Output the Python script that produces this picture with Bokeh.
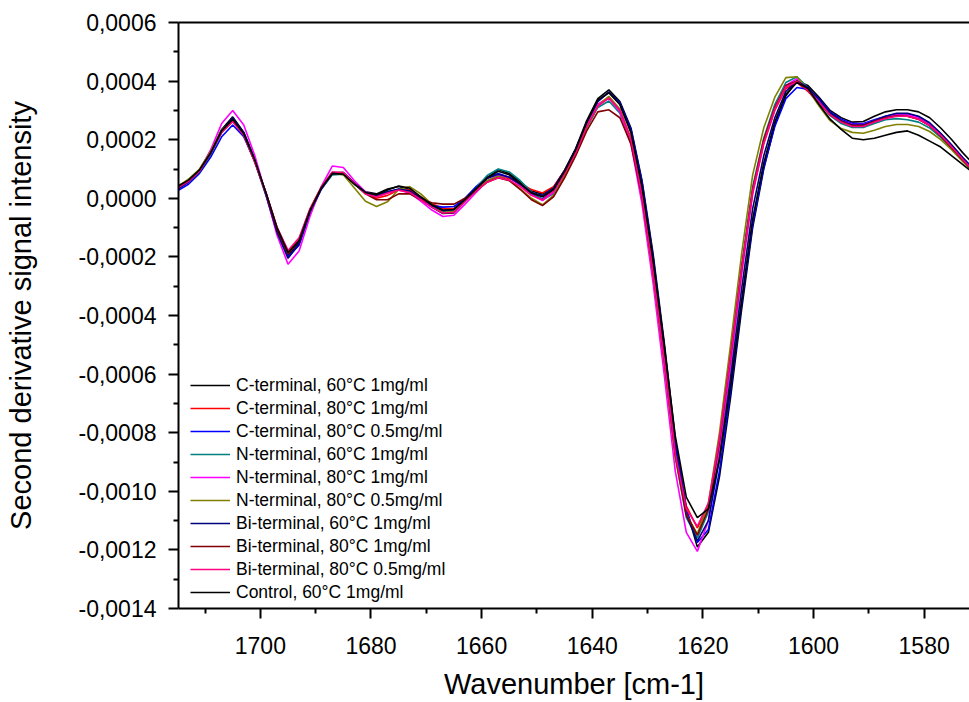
from bokeh.plotting import figure
from bokeh.models import (Range1d, LinearAxis, FixedTicker, CustomJSTickFormatter,
                          Legend, LegendItem)
from bokeh.embed import file_html
from bokeh.resources import INLINE

# Wavenumber grid [cm-1]
wavenumber = [
    1717, 1715, 1713, 1711, 1709, 1707, 1705, 1703, 1701, 1699,
    1697, 1695, 1693, 1691, 1689, 1687, 1685, 1683, 1681, 1679,
    1677, 1675, 1673, 1671, 1669, 1667, 1665, 1663, 1661, 1659,
    1657, 1655, 1653, 1651, 1649, 1647, 1645, 1643, 1641, 1639,
    1637, 1635, 1633, 1631, 1629, 1627, 1625, 1623, 1621, 1619,
    1617, 1615, 1613, 1611, 1609, 1607, 1605, 1603, 1601, 1599,
    1597, 1595, 1593, 1591, 1589, 1587, 1585, 1583, 1581, 1579,
    1577, 1575, 1573, 1571]

# Second-derivative values, in units of 1e-4
c_term_60_1 = [
    0.15, 0.40, 0.62, 0.98, 1.58, 2.35, 2.78, 2.25, 1.35, 0.15,
    -1.10, -1.95, -1.50, -0.42, 0.35, 0.88, 0.88, 0.50, 0.22, 0.15,
    0.32, 0.40, 0.30, 0.00, -0.30, -0.52, -0.50, -0.10, 0.30, 0.70,
    0.98, 0.85, 0.55, 0.25, 0.15, 0.35, 0.95, 1.70, 2.65, 3.40,
    3.70, 3.30, 2.40, 0.60, -1.90, -4.90, -8.20, -10.60, -11.90, -11.40,
    -9.50, -6.80, -3.80, -1.00, 1.00, 2.50, 3.50, 4.00, 3.85, 3.45,
    3.00, 2.75, 2.60, 2.62, 2.80, 2.95, 3.02, 3.02, 2.95, 2.75,
    2.40, 2.00, 1.55, 1.15]
c_term_80_1 = [
    0.12, 0.36, 0.58, 0.93, 1.52, 2.25, 2.62, 2.15, 1.25, 0.20,
    -1.00, -1.82, -1.40, -0.38, 0.35, 0.85, 0.85, 0.52, 0.18, 0.00,
    0.10, 0.28, 0.28, 0.05, -0.18, -0.35, -0.35, -0.05, 0.28, 0.60,
    0.75, 0.68, 0.48, 0.30, 0.18, 0.40, 0.95, 1.62, 2.50, 3.20,
    3.45, 3.00, 2.05, 0.25, -2.30, -5.30, -8.50, -10.50, -11.25, -10.50,
    -8.30, -5.50, -2.50, 0.15, 1.85, 3.00, 3.75, 3.95, 3.65, 3.25,
    2.85, 2.60, 2.45, 2.45, 2.60, 2.75, 2.82, 2.80, 2.70, 2.48,
    2.15, 1.75, 1.30, 0.92]
c_term_80_05 = [
    0.05, 0.25, 0.48, 0.85, 1.40, 2.10, 2.50, 2.10, 1.25, 0.10,
    -1.15, -2.00, -1.60, -0.50, 0.30, 0.82, 0.85, 0.50, 0.20, 0.10,
    0.22, 0.30, 0.20, -0.05, -0.25, -0.30, -0.28, 0.00, 0.40, 0.72,
    0.85, 0.72, 0.45, 0.15, -0.02, 0.25, 0.85, 1.58, 2.50, 3.30,
    3.62, 3.25, 2.35, 0.55, -2.00, -5.00, -8.30, -10.60, -11.75, -11.30,
    -9.30, -6.60, -3.60, -0.90, 1.05, 2.45, 3.40, 3.78, 3.72, 3.40,
    2.95, 2.70, 2.55, 2.55, 2.68, 2.80, 2.88, 2.88, 2.78, 2.55,
    2.20, 1.80, 1.38, 1.00]
n_term_60_1 = [
    0.08, 0.32, 0.55, 0.90, 1.50, 2.25, 2.68, 2.18, 1.25, 0.18,
    -1.05, -1.88, -1.45, -0.42, 0.32, 0.80, 0.82, 0.48, 0.18, 0.08,
    0.20, 0.30, 0.22, -0.05, -0.30, -0.45, -0.40, -0.05, 0.35, 0.78,
    1.00, 0.90, 0.60, 0.22, -0.05, 0.15, 0.75, 1.50, 2.40, 3.10,
    3.32, 2.90, 1.95, 0.05, -2.55, -5.55, -8.80, -10.90, -11.60, -10.70,
    -8.30, -5.40, -2.30, 0.40, 2.05, 3.20, 3.95, 4.15, 3.78, 3.30,
    2.82, 2.55, 2.42, 2.42, 2.55, 2.68, 2.72, 2.68, 2.60, 2.40,
    2.08, 1.70, 1.28, 0.88]
n_term_80_1 = [
    0.15, 0.32, 0.55, 0.95, 1.65, 2.55, 3.00, 2.50, 1.45, 0.15,
    -1.25, -2.25, -1.80, -0.60, 0.40, 1.10, 1.05, 0.60, 0.22, 0.05,
    0.18, 0.28, 0.18, -0.10, -0.40, -0.62, -0.58, -0.20, 0.20, 0.58,
    0.78, 0.72, 0.45, 0.12, -0.08, 0.20, 0.80, 1.55, 2.50, 3.20,
    3.42, 2.95, 1.85, -0.20, -2.90, -6.00, -9.30, -11.40, -12.05, -11.00,
    -8.60, -5.70, -2.60, 0.20, 1.90, 3.05, 3.85, 4.08, 3.75, 3.30,
    2.88, 2.65, 2.52, 2.52, 2.65, 2.78, 2.85, 2.85, 2.75, 2.52,
    2.18, 1.78, 1.35, 0.95]
n_term_80_05 = [
    0.12, 0.40, 0.65, 1.00, 1.60, 2.32, 2.70, 2.20, 1.25, 0.15,
    -1.05, -1.85, -1.40, -0.35, 0.38, 0.88, 0.80, 0.35, -0.10, -0.28,
    -0.12, 0.30, 0.40, 0.15, -0.20, -0.48, -0.45, -0.10, 0.25, 0.60,
    0.75, 0.62, 0.32, 0.00, -0.22, 0.10, 0.75, 1.52, 2.42, 3.15,
    3.48, 3.05, 2.00, 0.05, -2.60, -5.60, -8.85, -10.80, -11.45, -10.40,
    -8.00, -5.00, -1.90, 0.80, 2.40, 3.45, 4.12, 4.15, 3.70, 3.15,
    2.65, 2.38, 2.25, 2.22, 2.32, 2.45, 2.52, 2.52, 2.45, 2.28,
    2.00, 1.65, 1.25, 0.88]
bi_term_60_1 = [
    0.05, 0.30, 0.55, 0.92, 1.52, 2.30, 2.75, 2.25, 1.30, 0.15,
    -1.15, -2.05, -1.55, -0.45, 0.32, 0.85, 0.88, 0.52, 0.20, 0.08,
    0.22, 0.32, 0.25, 0.00, -0.25, -0.42, -0.38, 0.00, 0.35, 0.68,
    0.82, 0.72, 0.48, 0.20, 0.10, 0.35, 0.95, 1.68, 2.58, 3.32,
    3.62, 3.20, 2.25, 0.40, -2.20, -5.20, -8.50, -10.80, -11.70, -11.00,
    -8.90, -6.10, -3.10, -0.35, 1.45, 2.75, 3.65, 4.00, 3.78, 3.38,
    2.92, 2.65, 2.50, 2.50, 2.65, 2.80, 2.90, 2.90, 2.80, 2.58,
    2.22, 1.82, 1.38, 0.98]
bi_term_80_1 = [
    0.10, 0.38, 0.60, 0.95, 1.55, 2.28, 2.68, 2.18, 1.25, 0.18,
    -1.05, -1.90, -1.45, -0.40, 0.35, 0.85, 0.85, 0.50, 0.15, -0.05,
    -0.05, 0.15, 0.15, -0.05, -0.15, -0.20, -0.20, 0.00, 0.25, 0.55,
    0.70, 0.60, 0.30, -0.05, -0.25, 0.05, 0.70, 1.45, 2.30, 2.95,
    3.02, 2.75, 1.85, 0.05, -2.50, -5.50, -8.75, -10.80, -11.50, -10.60,
    -8.30, -5.40, -2.40, 0.30, 2.00, 3.10, 3.85, 4.00, 3.68, 3.25,
    2.85, 2.62, 2.48, 2.48, 2.62, 2.75, 2.82, 2.80, 2.70, 2.48,
    2.12, 1.72, 1.30, 0.90]
bi_term_80_05 = [
    0.15, 0.35, 0.58, 0.93, 1.55, 2.25, 2.62, 2.15, 1.22, 0.20,
    -0.98, -1.78, -1.35, -0.35, 0.38, 0.90, 0.88, 0.50, 0.15, 0.05,
    0.18, 0.28, 0.20, -0.05, -0.30, -0.50, -0.48, -0.10, 0.25, 0.55,
    0.70, 0.62, 0.40, 0.10, -0.05, 0.25, 0.85, 1.55, 2.45, 3.15,
    3.42, 3.00, 2.00, 0.10, -2.50, -5.50, -8.70, -10.60, -11.20, -10.40,
    -8.20, -5.40, -2.40, 0.25, 1.90, 3.05, 3.80, 3.98, 3.68, 3.25,
    2.85, 2.60, 2.45, 2.45, 2.60, 2.72, 2.80, 2.80, 2.70, 2.48,
    2.15, 1.75, 1.32, 0.92]
control_60_1 = [
    0.12, 0.40, 0.62, 0.97, 1.55, 2.30, 2.70, 2.20, 1.30, 0.20,
    -1.00, -1.85, -1.45, -0.40, 0.35, 0.85, 0.82, 0.48, 0.20, 0.12,
    0.28, 0.42, 0.35, 0.05, -0.22, -0.40, -0.38, -0.05, 0.32, 0.70,
    0.92, 0.80, 0.50, 0.18, 0.05, 0.30, 0.92, 1.65, 2.60, 3.35,
    3.60, 3.20, 2.25, 0.40, -2.10, -5.00, -8.10, -10.20, -10.90, -10.60,
    -8.90, -6.40, -3.50, -0.70, 1.20, 2.60, 3.55, 3.95, 3.75, 3.20,
    2.70, 2.35, 2.05, 2.00, 2.05, 2.15, 2.25, 2.30, 2.15, 1.95,
    1.75, 1.45, 1.15, 0.85]

labels = [
    "C-terminal, 60°C 1mg/ml",
    "C-terminal, 80°C 1mg/ml",
    "C-terminal, 80°C 0.5mg/ml",
    "N-terminal, 60°C 1mg/ml",
    "N-terminal, 80°C 1mg/ml",
    "N-terminal, 80°C 0.5mg/ml",
    "Bi-terminal, 60°C 1mg/ml",
    "Bi-terminal, 80°C 1mg/ml",
    "Bi-terminal, 80°C 0.5mg/ml",
    "Control, 60°C 1mg/ml",
]
series = [c_term_60_1, c_term_80_1, c_term_80_05, n_term_60_1, n_term_80_1,
          n_term_80_05, bi_term_60_1, bi_term_80_1, bi_term_80_05, control_60_1]
colors = ["#000000", "#FF0000", "#0000FF", "#008080", "#FF00FF",
          "#808000", "#000080", "#800000", "#FF0080", "#000000"]

y_ticks = [-0.0014, -0.0012, -0.0010, -0.0008, -0.0006, -0.0004, -0.0002,
           0.0, 0.0002, 0.0004, 0.0006]
y_minor = [-0.0013, -0.0011, -0.0009, -0.0007, -0.0005, -0.0003, -0.0001,
           0.0001, 0.0003, 0.0005]
x_ticks = [1580, 1600, 1620, 1640, 1660, 1680, 1700]
x_minor = [1570, 1590, 1610, 1630, 1650, 1670, 1690, 1710]

FONT = "Liberation Sans"

p = figure(width=969, height=702, output_backend="svg", toolbar_location=None,
           x_range=Range1d(1714.8, 1571.8), y_range=Range1d(-0.0014, 0.0006),
           min_border_left=178, min_border_right=0, min_border_top=22,
           min_border_bottom=90)
p.xgrid.visible = False
p.ygrid.visible = False
p.outline_line_color = None
p.background_fill_color = "white"

p.yaxis.ticker = FixedTicker(ticks=y_ticks, minor_ticks=y_minor)
p.xaxis.ticker = FixedTicker(ticks=x_ticks, minor_ticks=x_minor)
p.yaxis.formatter = CustomJSTickFormatter(code="return tick.toFixed(4).replace('.', ',');")
p.xaxis.axis_label = "Wavenumber [cm-1]"
p.yaxis.axis_label = "Second derivative signal intensity"

for ax in [p.xaxis[0], p.yaxis[0]]:
    ax.axis_line_width = 2
    ax.axis_line_color = "black"
    ax.major_tick_line_width = 2
    ax.major_tick_line_color = "black"
    ax.major_tick_out = 10
    ax.major_tick_in = 0
    ax.minor_tick_line_width = 2
    ax.minor_tick_line_color = "black"
    ax.minor_tick_out = 5
    ax.minor_tick_in = 0
    ax.major_label_text_font = FONT
    ax.major_label_text_font_size = "23px"
    ax.major_label_text_color = "black"
    ax.axis_label_text_font = FONT
    ax.axis_label_text_font_size = "29px"
    ax.axis_label_text_font_style = "normal"
    ax.axis_label_text_color = "black"

p.xaxis.major_label_standoff = 18
p.xaxis.axis_label_standoff = 11
p.yaxis.major_label_standoff = 12
p.yaxis.axis_label_standoff = 38

top_axis = LinearAxis(ticker=FixedTicker(ticks=[], minor_ticks=[]),
                      major_label_text_font_size="0px",
                      axis_line_width=2, axis_line_color="black",
                      major_tick_line_color=None, minor_tick_line_color=None)
p.add_layout(top_axis, "above")

items = []
for vals, col, lab in zip(series, colors, labels):
    ys = [v * 1e-4 for v in vals]
    r = p.line(wavenumber, ys, line_color=col, line_width=1.6)
    items.append(LegendItem(label=lab, renderers=[r]))

legend = Legend(items=items, location=(12, 5), padding=0, margin=0, spacing=1,
                label_height=22, glyph_height=22, glyph_width=40,
                label_standoff=6, label_text_font=FONT,
                label_text_font_size="17.5px", label_text_color="black",
                background_fill_alpha=0, border_line_color=None)
p.add_layout(legend)

open("out.html", "w").write(file_html(p, INLINE))
